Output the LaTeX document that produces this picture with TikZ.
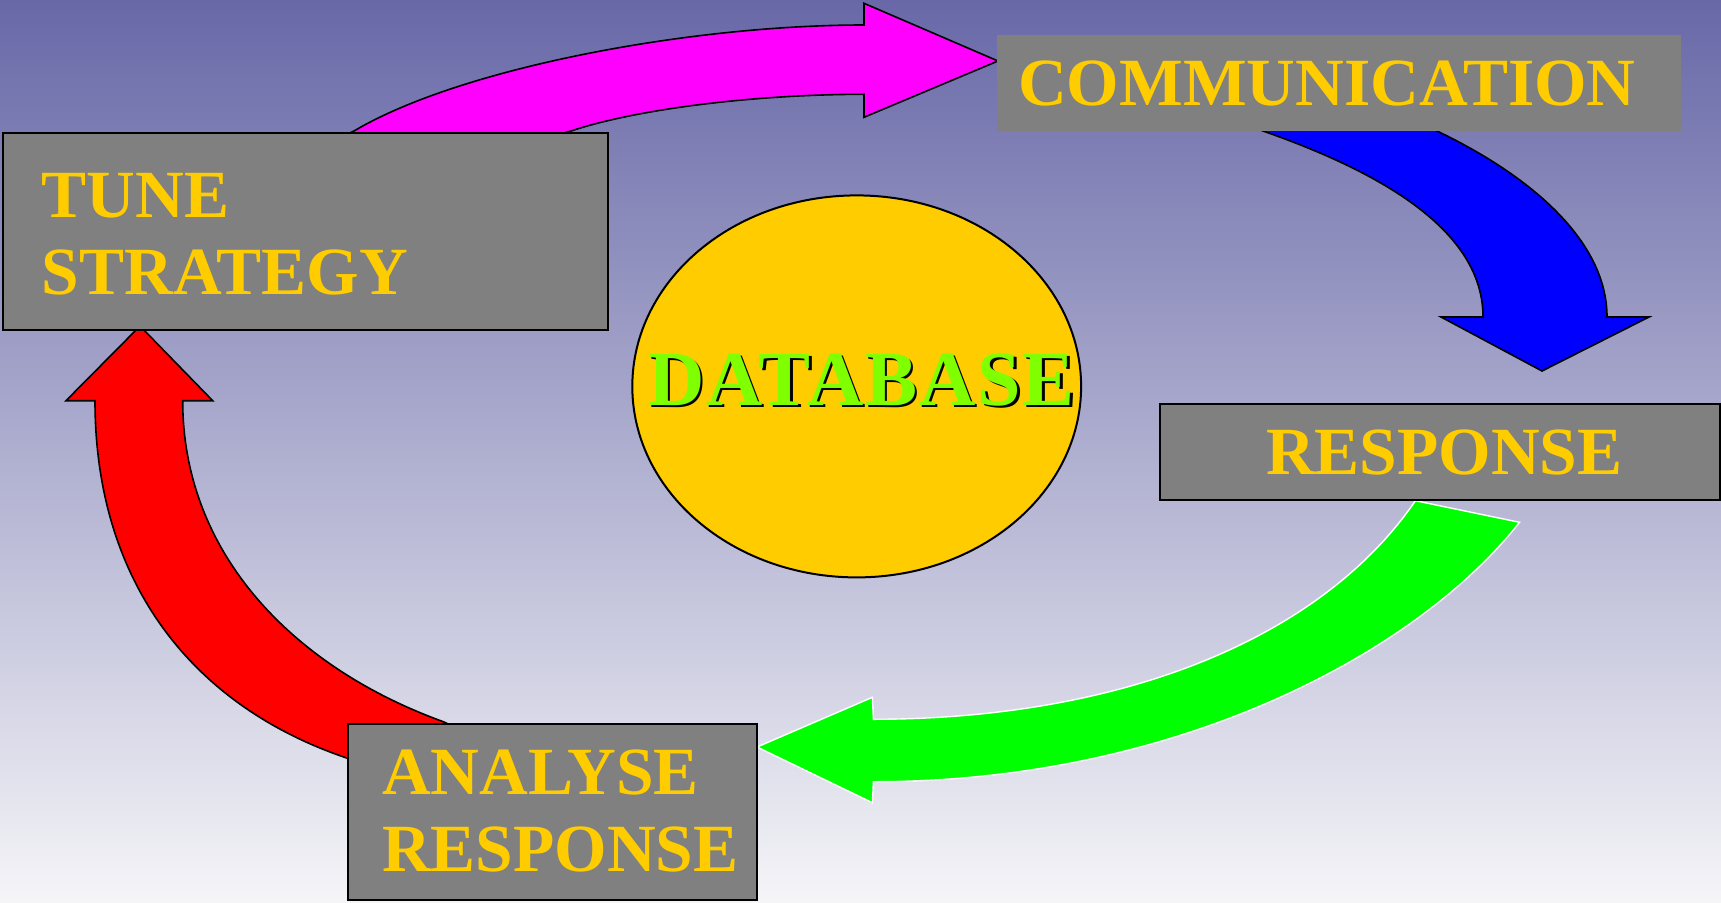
\documentclass[tikz,border=0pt]{standalone}
\usepackage{fontspec}
\setmainfont{Liberation Serif}
\usetikzlibrary{shapes.geometric}

\definecolor{bgtop}{HTML}{6868A8}
\definecolor{bgbot}{HTML}{F5F5F8}
\definecolor{boxgray}{HTML}{808080}
\definecolor{gold}{HTML}{FFCC00}
\definecolor{dbgreen}{HTML}{80FF00}
\definecolor{arrowpink}{HTML}{FF00FF}
\definecolor{arrowblue}{HTML}{0000FF}
\definecolor{arrowgreen}{HTML}{00FF00}
\definecolor{arrowred}{HTML}{FF0000}

\tikzset{
  boxtext/.style={anchor=base west, inner sep=0pt, text=gold,
    font=\fontsize{67.5}{77}\selectfont\bfseries},
  dbtext/.style={anchor=base west, inner sep=0pt,
    font=\fontsize{78}{80}\selectfont\bfseries\addfontfeature{LetterSpace=2.5}},
  stagebox/.style={rectangle, draw=black, line width=2pt, fill=boxgray,
    anchor=north west, inner sep=0pt},
  plainbox/.style={rectangle, fill=boxgray, anchor=north west, inner sep=0pt},
  blockarrow/.style={draw=black, line width=1.6pt, line join=miter},
}

\begin{document}
\begin{tikzpicture}[x=1pt, y=-1pt]
  % backdrop with vertical fade
  \shade[top color=bgtop, bottom color=bgbot] (0,0) rectangle (1721,902);
  \useasboundingbox (0,0) rectangle (1721,902);

  % block arrows (drawn first so the boxes overlap their tails)
  \fill[arrowpink, blockarrow]
    (515,147) -- (571,131) .. controls (640,108) and (760,94.3) .. (864,94.3)
    -- (864,117.3) -- (998,61) -- (864,3.3) -- (864,25)
    .. controls (690,25) and (460,68) .. (354,131) -- (290,161) -- cycle;

  \fill[arrowblue, blockarrow]
    (1220,116) -- (1263,131) .. controls (1380,172) and (1483,230) .. (1483,317)
    -- (1441,317) -- (1542,371) -- (1649,317) -- (1607,317)
    .. controls (1607,240) and (1529,175) .. (1437,131) -- (1400,113) -- cycle;

  \fill[arrowgreen, draw=white, line width=1.4pt]
    (1415.4,500.7) .. controls (1320,640) and (1120,719) .. (873.4,719.3)
    -- (872.4,697.3) -- (757,747) -- (872.4,802.7) -- (873.4,781.7)
    .. controls (1180,781.7) and (1419.5,650.3) .. (1519.5,522.3) -- cycle;

  \fill[arrowred, blockarrow]
    (400,783) -- (346.7,758) .. controls (190,705) and (95,580) .. (95,400.7)
    -- (66,400.7) -- (140,326) -- (212.7,400.7) -- (182.7,400.7)
    .. controls (182.7,555) and (295,668) .. (443.3,721.7) -- (500,748) -- cycle;

  % stage boxes
  \node[stagebox, minimum width=604.8pt, minimum height=197.3pt] (tune) at (2.2,131.7) {};
  \node[plainbox, minimum width=683.9pt, minimum height=95.6pt] (comm) at (996.6,35) {};
  \node[stagebox, minimum width=560pt, minimum height=96.6pt] (resp) at (1159,402.8) {};
  \node[stagebox, minimum width=409.5pt, minimum height=175.6pt] (anal) at (346.8,723.3) {};

  % central store
  \node[ellipse, draw=black, line width=2pt, fill=gold,
        minimum width=448.8pt, minimum height=382pt, inner sep=0pt] (db) at (856.7,386.4) {};

  % labels
  \node[boxtext] (tuneA) at (41.7,217) {TUNE};
  \node[boxtext] (tuneB) at (41.7,294) {STRATEGY};
  \node[boxtext] (commT) at (1018,105.4) {COMMUNICATION};
  \node[boxtext] (respT) at (1266,474) {RESPONSE};
  \node[boxtext] (analA) at (382,794.7) {ANALYSE};
  \node[boxtext] (analB) at (382,871.5) {RESPONSE};

  \node[dbtext, text=black] (dbshadow) at (650.5,407.5) {DATABASE};
  \node[dbtext, text=dbgreen] (dbT) at (648,405) {DATABASE};
\end{tikzpicture}
\end{document}
